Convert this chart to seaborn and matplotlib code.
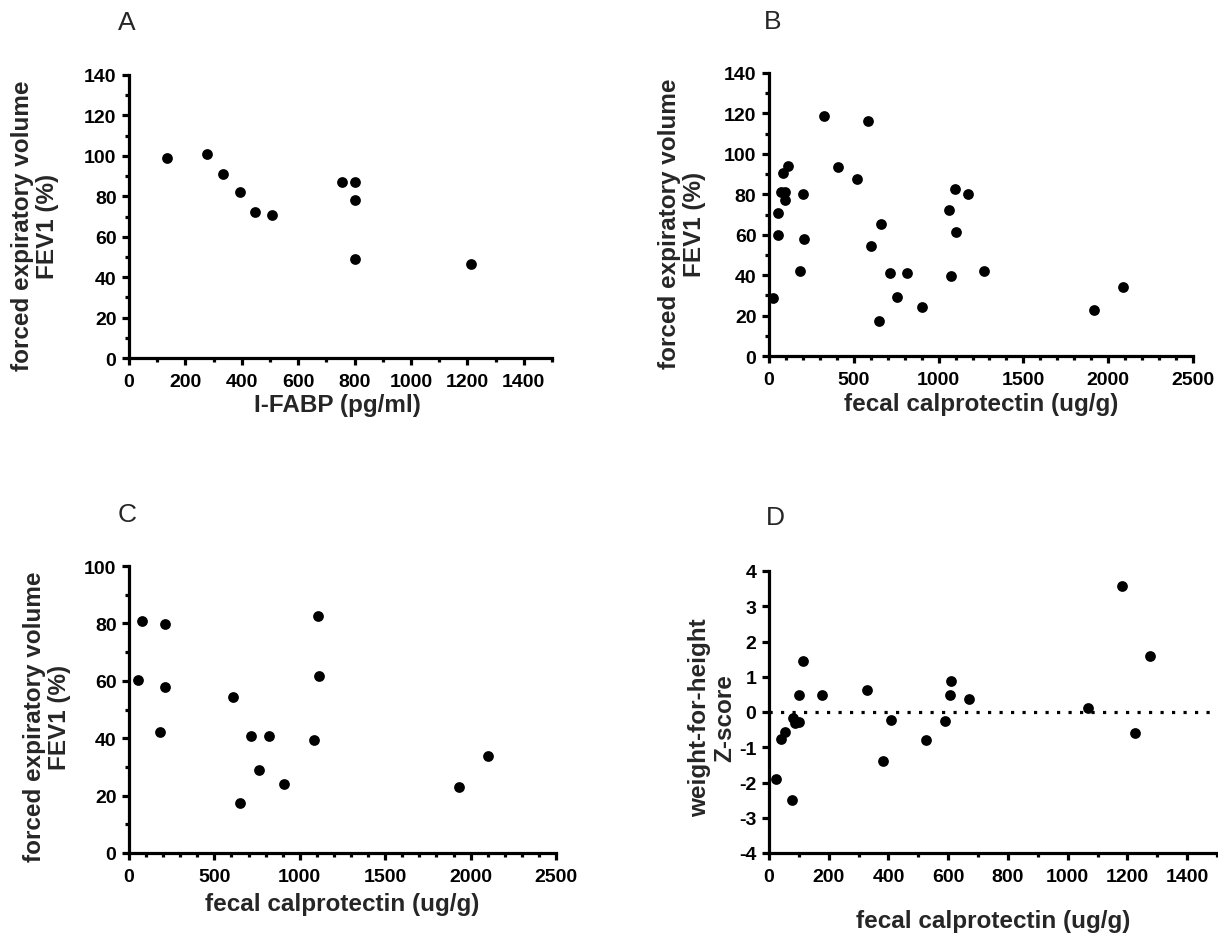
import matplotlib
matplotlib.use("Agg")
import matplotlib.pyplot as plt
from matplotlib.ticker import MultipleLocator
import seaborn as sns
import pandas as pd

# Panel A: I-FABP vs FEV1
ifabp_a = [135, 275, 333, 394, 448, 508, 754, 800, 800, 800, 1213]
fev1_a = [99, 101, 91, 82, 72, 70.5, 87, 87, 78, 49, 46.5]

# Panel B: fecal calprotectin vs FEV1 (all patients)
calpro_b = [24, 55, 53, 71, 94, 93, 83, 114, 181, 201, 209, 323, 406, 520, 585,
            604, 663, 650, 711, 752, 811, 902, 1063, 1098, 1173, 1104, 1075,
            1266, 1919, 2089]
fev1_b = [28.8, 70.5, 60, 81, 81, 77, 90.5, 94, 42, 80, 58, 118.5, 93.5, 87.5,
          116.5, 54.5, 65.5, 17.5, 41, 29, 41, 24, 72, 82.5, 80, 61.5, 39.5,
          42, 23, 34]

# Panel C: fecal calprotectin vs FEV1 (subgroup)
calpro_c = [51, 76, 209, 211, 184, 607, 652, 717, 760, 818, 910, 1086, 1105,
            1111, 1932, 2104]
fev1_c = [60.2, 81, 79.7, 58, 42, 54.3, 17.5, 40.8, 29, 40.8, 24, 39.5, 82.5,
          61.5, 23, 33.8]

# Panel D: fecal calprotectin vs weight-for-height Z-score
calpro_d = [25, 40, 55, 78, 82, 88, 101, 101, 114, 177, 327, 381, 410, 524,
            589, 606, 610, 669, 1069, 1181, 1224, 1274]
zscore_d = [-1.9, -0.76, -0.57, -2.49, -0.18, -0.32, -0.27, 0.48, 1.46, 0.48,
            0.63, -1.38, -0.23, -0.79, -0.25, 0.48, 0.89, 0.36, 0.1, 3.58,
            -0.59, 1.6]

FEV_LABEL = "forced expiratory volume\nFEV1 (%)"
CALPRO_LABEL = "fecal calprotectin (ug/g)"

sns.set_style("ticks")
plt.rcParams["font.family"] = ["Liberation Sans", "DejaVu Sans"]
plt.rcParams["font.weight"] = "bold"
plt.rcParams["axes.unicode_minus"] = False

W, H = 1218, 937
fig = plt.figure(figsize=(W / 100, H / 100), dpi=100)


def px_axes(left, top, right, bottom):
    return fig.add_axes([left / W, 1 - bottom / H, (right - left) / W, (bottom - top) / H])


def style_axes(ax, xmax, xmajor, xminor, ylim, ymajor, yminor):
    ax.set_xlim(0, xmax)
    ax.set_ylim(*ylim)
    ax.xaxis.set_major_locator(MultipleLocator(xmajor))
    ax.xaxis.set_minor_locator(MultipleLocator(xminor))
    ax.yaxis.set_major_locator(MultipleLocator(ymajor))
    if yminor:
        ax.yaxis.set_minor_locator(MultipleLocator(yminor))
    sns.despine(ax=ax)
    for s in ("left", "bottom"):
        ax.spines[s].set_linewidth(2.3)
        ax.spines[s].set_color("black")
    ax.tick_params(which="major", direction="out", length=5, width=2.3,
                   labelsize=14, pad=4, colors="black")
    ax.tick_params(which="minor", direction="out", length=3, width=2.3, colors="black")
    ax.tick_params(axis="x", which="major", pad=6)
    for lab in ax.get_xticklabels() + ax.get_yticklabels():
        lab.set_fontweight("bold")


def scatter(ax, x, y):
    df = pd.DataFrame({"x": x, "y": y})
    sns.scatterplot(data=df, x="x", y="y", ax=ax, color="black", s=60,
                    linewidth=0, clip_on=False, zorder=5)


def labels(ax, xlabel, xlab_pos, ylabel, ylab_pos, letter, letter_pos):
    ax.set_xlabel(xlabel, fontsize=17.5, fontweight="bold", va="center", ha="center")
    ax.xaxis.set_label_coords(xlab_pos[0] / W, 1 - xlab_pos[1] / H, transform=fig.transFigure)
    ax.set_ylabel(ylabel, fontsize=17.5, fontweight="bold", va="center", ha="center",
                  linespacing=1.15)
    ax.yaxis.set_label_coords(ylab_pos[0] / W, 1 - ylab_pos[1] / H, transform=fig.transFigure)
    fig.text(letter_pos[0] / W, 1 - letter_pos[1] / H, letter, fontsize=19,
             fontweight="normal", ha="center", va="center")


# A
axA = px_axes(129, 76, 552, 359)
scatter(axA, ifabp_a, fev1_a)
style_axes(axA, 1500, 200, 100, (0, 140), 20, 10)
labels(axA, "I-FABP (pg/ml)", (337, 406), FEV_LABEL, (35, 226), "A", (127, 23))

# B
axB = px_axes(769, 74, 1193, 357)
scatter(axB, calpro_b, fev1_b)
style_axes(axB, 2500, 500, 100, (0, 140), 20, 10)
labels(axB, CALPRO_LABEL, (981, 404), FEV_LABEL, (682, 224), "B", (773, 22))

# C
axC = px_axes(129, 567, 556, 854)
scatter(axC, calpro_c, fev1_c)
style_axes(axC, 2500, 500, 100, (0, 100), 20, 10)
labels(axC, CALPRO_LABEL, (342, 905), FEV_LABEL, (47, 717), "C", (127, 515))

# D
axD = px_axes(769, 572, 1217, 854)
axD.axhline(0, color="black", linestyle=(0, (1, 2.6)), linewidth=2.3, zorder=1)
scatter(axD, calpro_d, zscore_d)
style_axes(axD, 1500, 200, 100, (-4, 4), 1, None)
labels(axD, CALPRO_LABEL, (993, 922), "weight-for-height\nZ-score", (712, 718), "D", (775, 518))

fig.savefig("out.png", dpi=100)
